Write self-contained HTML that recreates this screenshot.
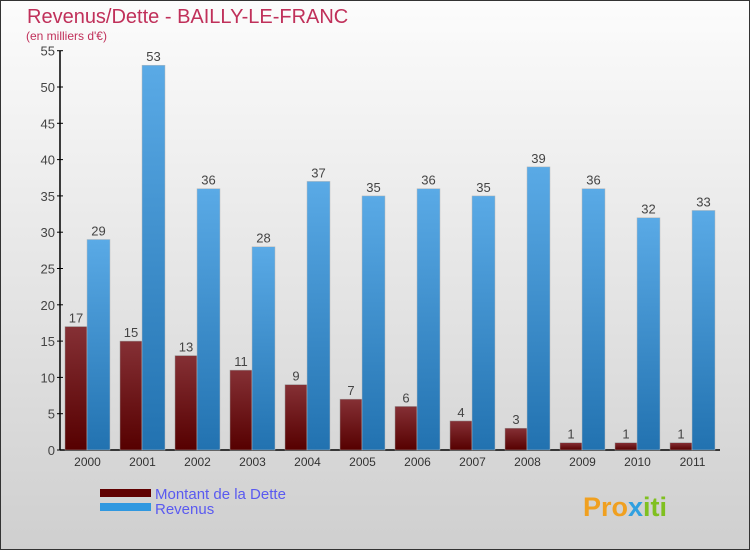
<!DOCTYPE html>
<html><head><meta charset="utf-8"><style>
body{margin:0;width:750px;height:550px;overflow:hidden;font-family:"Liberation Sans",sans-serif}
svg{display:block}
</style></head><body>
<svg id="chart" width="750" height="550">
<defs>
<linearGradient id="bg" x1="0" y1="0" x2="0" y2="1"><stop offset="0" stop-color="#fcfcfc"/><stop offset="1" stop-color="#cfcfcf"/></linearGradient>
<linearGradient id="gd" x1="0" y1="0" x2="0" y2="1"><stop offset="0" stop-color="#853035"/><stop offset="1" stop-color="#560000"/></linearGradient>
<linearGradient id="gr" x1="0" y1="0" x2="0" y2="1"><stop offset="0" stop-color="#5aaae6"/><stop offset="1" stop-color="#2272b0"/></linearGradient>
</defs>
<rect x="0.5" y="0.5" width="749" height="549" fill="url(#bg)" stroke="#333"/>
<text x="27" y="23" font-size="20" fill="#c0305a">Revenus/Dette - BAILLY-LE-FRANC</text>
<text x="26" y="40" font-size="12" fill="#c0305a">(en milliers d'€)</text>
<g id="axes"></g>
<g id="bars"></g>
<rect x="100" y="489" width="51" height="8" fill="#600000"/>
<text x="155" y="499" font-size="15" fill="#5a5af0">Montant de la Dette</text>
<rect x="100" y="503" width="51" height="8" fill="#3098e0"/>
<text x="155" y="514" font-size="15" fill="#5a5af0">Revenus</text>
<text x="583" y="516" font-size="27" font-weight="bold" fill="#f0a020">Pro<tspan fill="#30a0e0">x</tspan><tspan fill="#80c020">iti</tspan></text>
</svg>
<script>
const years=["2000","2001","2002","2003","2004","2005","2006","2007","2008","2009","2010","2011"];
const dette=[17,15,13,11,9,7,6,4,3,1,1,1];
const revenus=[29,53,36,28,37,35,36,35,39,36,32,33];
const yTicks=[0,5,10,15,20,25,30,35,40,45,50,55];
const NS="http://www.w3.org/2000/svg";
const x0=60,gw=55,y0=450,yTop=50.7,yMax=55;
const y=v=>y0-(v/yMax)*(y0-yTop);
function mk(t,a,p){const e=document.createElementNS(NS,t);for(const k in a)e.setAttribute(k,a[k]);p.appendChild(e);return e;}
const ax=document.getElementById('axes'),bars=document.getElementById('bars');
let l=mk('line',{x1:x0,y1:yTop,x2:x0,y2:y0,stroke:'#000','stroke-width':1.5},ax);


l=mk('line',{x1:x0,y1:y0,x2:x0+gw*years.length,y2:y0,stroke:'#000','stroke-width':1.5},ax);


yTicks.forEach(v=>{
 const t=mk('line',{x1:x0-3,y1:y(v),x2:x0+3,y2:y(v),stroke:'#000'},ax);
 
 
 const tx=mk('text',{x:x0-5,y:y(v)+5,'text-anchor':'end','font-size':13,fill:'#444'},ax);
 tx.textContent=v;
 
 
});
years.forEach((yr,i)=>{
 const gx=x0+gw*i;
 const t=mk('text',{x:gx+gw/2,y:466,'text-anchor':'middle','font-size':12,fill:'#333'},ax);
 t.textContent=yr;
 
 
 const b1=mk('rect',{x:gx+5,y:y(dette[i]),width:22,height:y0-y(dette[i]),fill:'url(#gd)',stroke:'#999','stroke-width':0.5},bars);
 
 
 const b2=mk('rect',{x:gx+27,y:y(revenus[i]),width:23,height:y0-y(revenus[i]),fill:'url(#gr)',stroke:'#bbb','stroke-width':0.5},bars);
 
 
 const v1=mk('text',{x:gx+16,y:y(dette[i])-4,'text-anchor':'middle','font-size':13,fill:'#444'},bars);
 v1.textContent=dette[i];
 
 
 const v2=mk('text',{x:gx+38.5,y:y(revenus[i])-4,'text-anchor':'middle','font-size':13,fill:'#444'},bars);
 v2.textContent=revenus[i];
 
 
});
</script>
</body></html>
